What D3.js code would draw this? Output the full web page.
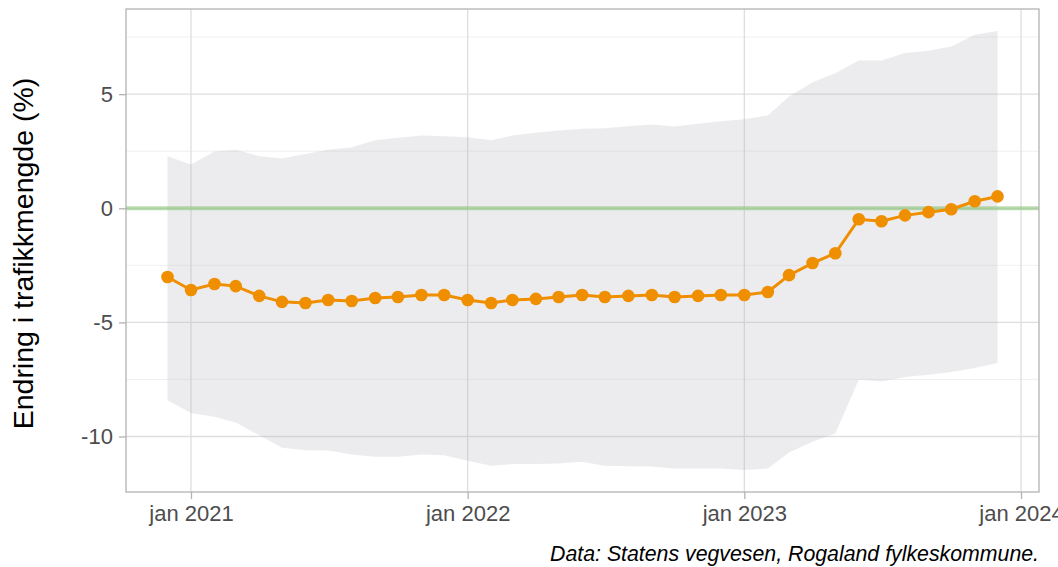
<!DOCTYPE html>
<html>
<head>
<meta charset="utf-8">
<script src="https://cdn.jsdelivr.net/npm/d3@7"></script>
<style>
  body { margin: 0; background: #fff; }
  svg { display: block; font-family: "Liberation Sans", Arial, sans-serif; }
</style>
</head>
<body>
<script>
// monthly index, des 2020 - des 2023
var months = ["2020-12", "2021-01", "2021-02", "2021-03", "2021-04", "2021-05", "2021-06",
              "2021-07", "2021-08", "2021-09", "2021-10", "2021-11", "2021-12",
              "2022-01", "2022-02", "2022-03", "2022-04", "2022-05", "2022-06",
              "2022-07", "2022-08", "2022-09", "2022-10", "2022-11", "2022-12",
              "2023-01", "2023-02", "2023-03", "2023-04", "2023-05", "2023-06",
              "2023-07", "2023-08", "2023-09", "2023-10", "2023-11", "2023-12"];

var change = [-3.01, -3.58, -3.32, -3.41, -3.84, -4.10, -4.15, -4.02, -4.06, -3.93, -3.89, -3.80, -3.80,
              -4.02, -4.15, -4.02, -3.97, -3.89, -3.80, -3.89, -3.84, -3.80, -3.89, -3.84, -3.80,
              -3.80, -3.67, -2.93, -2.40, -1.97, -0.48, -0.57, -0.31, -0.17, -0.04, 0.31, 0.52];

var upper = [2.28, 1.92, 2.49, 2.57, 2.28, 2.18, 2.38, 2.57, 2.67, 2.98, 3.09, 3.19, 3.16,
             3.11, 2.98, 3.19, 3.31, 3.41, 3.48, 3.51, 3.59, 3.67, 3.58, 3.70, 3.81,
             3.90, 4.07, 4.90, 5.52, 5.92, 6.48, 6.48, 6.80, 6.90, 7.09, 7.60, 7.77];

var lower = [-8.41, -8.97, -9.14, -9.39, -9.94, -10.49, -10.60, -10.61, -10.79, -10.89, -10.89, -10.79, -10.82,
             -11.06, -11.28, -11.21, -11.21, -11.18, -11.11, -11.28, -11.30, -11.32, -11.40, -11.40, -11.40,
             -11.47, -11.40, -10.70, -10.23, -9.87, -7.51, -7.59, -7.39, -7.29, -7.17, -7.00, -6.78];

var yTicks = [-10, -5, 0, 5];
var yMinor = [-7.5, -2.5, 2.5, 7.5];
var xTicks = ["2021-01", "2022-01", "2023-01", "2024-01"];
var monthNames = ["jan", "feb", "mar", "apr", "mai", "jun", "jul", "aug", "sep", "okt", "nov", "des"];
var caption = "Data: Statens vegvesen, Rogaland fylkeskommune.";

var W = 1058, H = 567;
var mLeft = 126, mRight = 1039, mTop = 9, mBottom = 492;

var parse = d3.utcParse("%Y-%m");
var data = months.map(function (m, i) {
  return { date: parse(m), v: change[i], lo: lower[i], hi: upper[i] };
});

// ggplot-ish 5% expansion
function expand(ext) {
  var d = (ext[1] - ext[0]) * 0.05;
  return [ext[0] - d, ext[1] + d];
}
var tExt = d3.extent(data, function (d) { return +d.date; });
var x = d3.scaleUtc()
          .domain(expand(tExt).map(function (t) { return new Date(t); }))
          .range([mLeft, mRight]);
var y = d3.scaleLinear()
          .domain(expand([d3.min(lower), d3.max(upper)]))
          .range([mBottom, mTop]);

var svg = d3.select("body").append("svg")
            .attr("width", W)
            .attr("height", H);

// grid
svg.append("g").selectAll("line")
   .data(yMinor)
   .enter().append("line")
   .attr("x1", mLeft).attr("x2", mRight)
   .attr("y1", function (d) { return y(d); })
   .attr("y2", function (d) { return y(d); })
   .attr("stroke", "#ececec").attr("stroke-width", 0.8);

svg.append("g").selectAll("line")
   .data(yTicks)
   .enter().append("line")
   .attr("x1", mLeft).attr("x2", mRight)
   .attr("y1", function (d) { return y(d); })
   .attr("y2", function (d) { return y(d); })
   .attr("stroke", "#dedede").attr("stroke-width", 1.3);

svg.append("g").selectAll("line")
   .data(xTicks.map(parse))
   .enter().append("line")
   .attr("y1", mTop).attr("y2", mBottom)
   .attr("x1", function (d) { return x(d); })
   .attr("x2", function (d) { return x(d); })
   .attr("stroke", "#dedede").attr("stroke-width", 1.3);

// band
var area = d3.area()
             .x(function (d) { return x(d.date); })
             .y0(function (d) { return y(d.lo); })
             .y1(function (d) { return y(d.hi); });

svg.append("path")
   .datum(data)
   .attr("d", area)
   .attr("fill", "rgb(180,183,190)")
   .attr("fill-opacity", 0.26);

// zero line
svg.append("line")
   .attr("x1", mLeft).attr("x2", mRight)
   .attr("y1", y(0)).attr("y2", y(0))
   .attr("stroke", "#8cc77a")
   .attr("stroke-opacity", 0.6)
   .attr("stroke-width", 4);

// series
var line = d3.line()
             .x(function (d) { return x(d.date); })
             .y(function (d) { return y(d.v); });

svg.append("path")
   .datum(data)
   .attr("d", line)
   .attr("fill", "none")
   .attr("stroke", "#ef8f00")
   .attr("stroke-width", 3);

svg.append("g").selectAll("circle")
   .data(data)
   .enter().append("circle")
   .attr("cx", function (d) { return x(d.date); })
   .attr("cy", function (d) { return y(d.v); })
   .attr("r", 6.3)
   .attr("fill", "#ef8f00");

// panel border
svg.append("rect")
   .attr("x", mLeft).attr("y", mTop)
   .attr("width", mRight - mLeft).attr("height", mBottom - mTop)
   .attr("fill", "none")
   .attr("stroke", "#b3b3b3")
   .attr("stroke-width", 1.3);

// axes
var yAxis = d3.axisLeft(y)
              .tickValues(yTicks)
              .tickSize(7)
              .tickPadding(5)
              .tickFormat(function (d) { return String(d); });
var gy = svg.append("g")
            .attr("transform", "translate(" + mLeft + ",0)")
            .call(yAxis);

var xAxis = d3.axisBottom(x)
              .tickValues(xTicks.map(parse))
              .tickSize(7)
              .tickPadding(5)
              .tickFormat(function (d) {
                return monthNames[d.getUTCMonth()] + " " + d.getUTCFullYear();
              });
var gx = svg.append("g")
            .attr("transform", "translate(0," + mBottom + ")")
            .call(xAxis);

[gx, gy].forEach(function (g) {
  g.select(".domain").remove();
  g.selectAll(".tick line").attr("stroke", "#b3b3b3").attr("stroke-width", 1.3);
  g.selectAll(".tick text")
   .attr("fill", "#4d4d4d")
   .style("font-size", "22px");
});
gy.selectAll(".tick text").attr("dx", "-0.05em");
gx.selectAll(".tick text").attr("dy", "0.75em");

// y title
svg.append("text")
   .attr("transform", "translate(33," + ((mTop + mBottom) / 2 + 3) + ") rotate(-90)")
   .attr("text-anchor", "middle")
   .style("font-size", "28.5px")
   .attr("fill", "#000")
   .text("Endring i trafikkmengde (%)");

// caption
svg.append("text")
   .attr("x", mRight)
   .attr("y", 561)
   .attr("text-anchor", "end")
   .style("font-size", "21.3px")
   .style("font-style", "italic")
   .attr("fill", "#000")
   .text(caption);
</script>
</body>
</html>
